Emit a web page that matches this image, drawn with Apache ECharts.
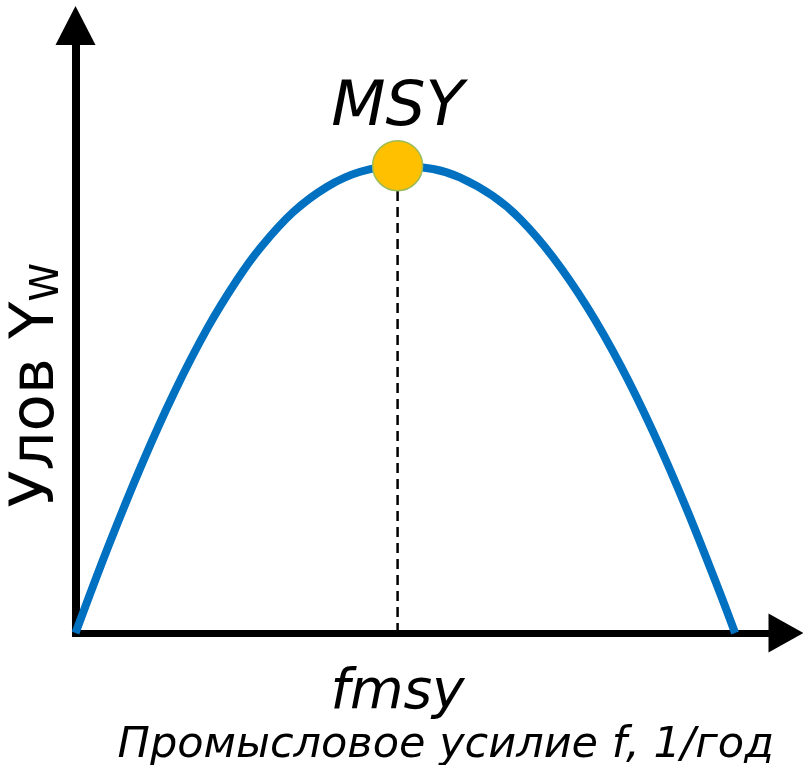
<!DOCTYPE html>
<html>
<head>
<meta charset="utf-8">
<script src="https://cdn.jsdelivr.net/npm/echarts@6/dist/echarts.min.js"></script>
<style>
html,body{margin:0;padding:0;background:#fff;}
#chart{width:803px;height:765px;}
</style>
</head>
<body>
<div id="chart"></div>
<script>
// Fishing effort f (arbitrary units) and catch Yw (arbitrary units)
var effortValues = [0, 5.5, 11.2, 16.8, 22.4, 27.3, 31.2, 36.7, 42.5, 48.1, 54.5, 60.4, 64.9, 70.5, 75.1, 80.6, 86.4, 92.0, 97.5, 103.3, 108.9, 111.4];
var catchValues  = [0, 18.4, 36.1, 51.8, 65.5, 75.6, 82.4, 90.0, 95.5, 98.7, 100.0, 99.3, 97.5, 93.5, 88.6, 80.5, 69.8, 57.4, 43.2, 26.3, 8.4, 0];
var fmsyValue = 54.4;
var msyValue = 100;
var pointLabels = ['MSY', 'fmsy'];
var xAxisTitle = 'Промысловое усилие f, 1/год';
var yAxisTitleMain = 'Улов Y';
var yAxisTitleSub = 'W';

var curveData = effortValues.map(function (f, i) { return [f, catchValues[i]]; });
var FONT = 'DejaVu Sans, Liberation Sans, sans-serif';

var chart = echarts.init(document.getElementById('chart'));
chart.setOption({
  animation: false,
  backgroundColor: '#ffffff',
  grid: { left: 75.5, right: 17, top: 25.5, bottom: 132, containLabel: false, outerBoundsMode: 'none' },
  xAxis: {
    type: 'value', min: 0, max: 120,
    axisLine: { show: true, onZero: false, symbol: ['none', 'triangle'], symbolSize: [39, 35],
      lineStyle: { color: '#000', width: 7, cap: 'square' } },
    axisTick: { show: false }, axisLabel: { show: false }, splitLine: { show: false },
    name: xAxisTitle, nameLocation: 'middle', nameGap: 91,
    nameTextStyle: { fontFamily: FONT, fontStyle: 'italic', fontSize: 43, lineHeight: 43, color: '#000', padding: [0, 0, 0, 30] }
  },
  yAxis: {
    type: 'value', min: 0, max: 130,
    axisLine: { show: true, onZero: false, symbol: ['none', 'triangle'], symbolSize: [40, 39],
      lineStyle: { color: '#000', width: 8, cap: 'square' } },
    axisTick: { show: false }, axisLabel: { show: false }, splitLine: { show: false },
    name: '{a|' + yAxisTitleMain + '}{w|' + yAxisTitleSub + '}',
    nameLocation: 'middle', nameRotate: 90, nameGap: 8,
    nameTextStyle: {
      color: '#000', padding: [0, 112, 0, 0],
      rich: {
        a: { fontFamily: FONT, fontSize: 61, lineHeight: 61, color: '#000', verticalAlign: 'bottom' },
        w: { fontFamily: FONT, fontSize: 39, lineHeight: 39, color: '#000', verticalAlign: 'bottom' }
      }
    }
  },
  series: [
    {
      type: 'line', data: curveData, smooth: 0.35, symbol: 'none', z: 2,
      lineStyle: { color: '#0070C0', width: 8 }
    },
    {
      type: 'line', data: [[fmsyValue, 0], [fmsyValue, msyValue]], symbol: 'none', z: 3,
      lineStyle: { color: '#000', width: 2.5, type: [10, 6] }
    },
    {
      type: 'scatter', z: 5,
      data: [
        { value: [fmsyValue, msyValue], symbolSize: 50,
          itemStyle: { color: '#FFC000', borderColor: '#9BBB59', borderWidth: 1.5, opacity: 1 },
          label: { show: true, position: 'top', distance: 0, formatter: pointLabels[0],
            fontFamily: FONT, fontStyle: 'italic', fontSize: 63, lineHeight: 63, color: '#000' } },
        { value: [fmsyValue, 0], symbolSize: 0,
          itemStyle: { color: 'rgba(0,0,0,0)', opacity: 1 },
          label: { show: true, position: 'bottom', distance: 33, formatter: pointLabels[1],
            fontFamily: FONT, fontStyle: 'italic', fontSize: 55, lineHeight: 55, color: '#000' } }
      ]
    }
  ]
});
</script>
</body>
</html>
